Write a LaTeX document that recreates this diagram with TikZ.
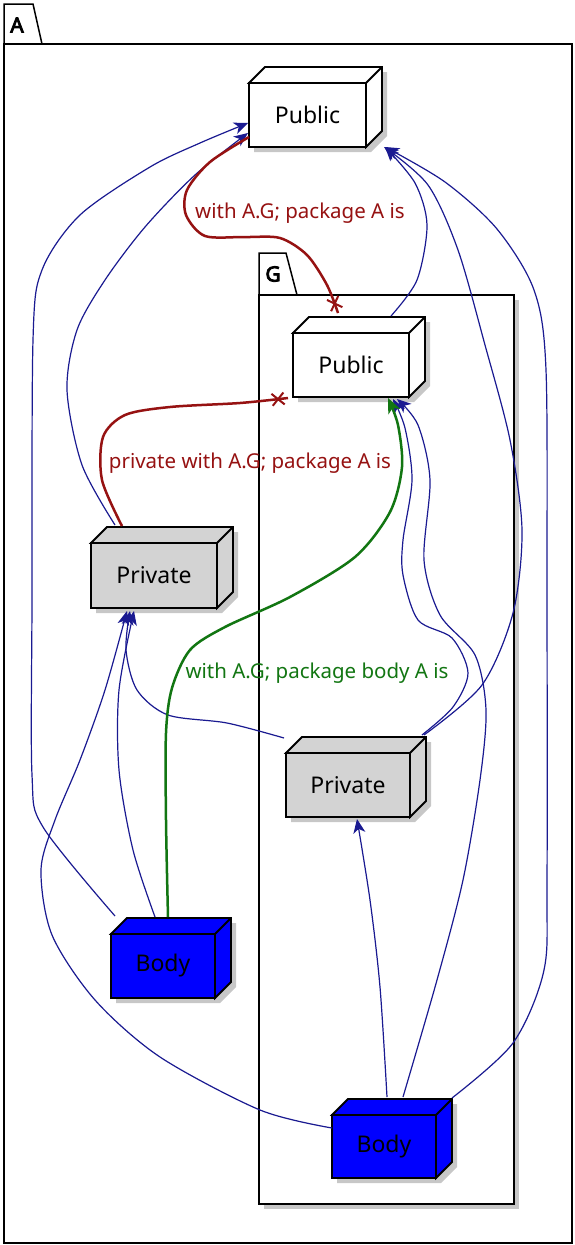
\documentclass[tikz,border=0pt]{standalone}
\usepackage{fontspec}
\setmainfont{Noto Sans}
\newfontfamily\pkgfont{Noto Sans}[FakeBold=4]
\usetikzlibrary{arrows.meta,decorations.markings}
\definecolor{eblue}{RGB}{26,26,145}
\definecolor{ered}{RGB}{150,18,18}
\definecolor{egreen}{RGB}{18,118,18}
\definecolor{boxgray}{RGB}{211,211,211}
\definecolor{pureblue}{RGB}{0,0,255}
\tikzset{
  cubefront/.style={draw, line width=1.8pt, outer sep=0pt, inner sep=0pt, font=\fontsize{23}{27}\selectfont, text=black},
  cubeline/.style={draw, line width=1.8pt, line join=miter},
  shadowc/.style={fill=black, opacity=0.22},
  pkgline/.style={draw, line width=1.5pt, fill=white},
  pkglabel/.style={font=\pkgfont\fontsize{21}{25}\selectfont, inner sep=0pt},
  eline/.style={draw=eblue, line width=1.2pt, -{Stealth[length=14pt,width=12pt,inset=4pt]}, fill=none},
  redline/.style={draw=ered, line width=2.5pt, fill=none,
    postaction={decorate, decoration={markings, mark=at position -10pt with {\draw[ered, line width=2pt] (-6,-6) -- (6,6) (-6,6) -- (6,-6);}}}},
  greenline/.style={draw=egreen, line width=2.5pt, fill=none, -{Stealth[length=15pt,width=13pt,inset=4pt]}},
  elabel/.style={font=\fontsize{20.5}{24}\selectfont, inner sep=0pt},
}
\newcommand\cubebox[7]{%
  \fill[shadowc] ({#2+5},{#5+5}) -- ({#2+5},{#3+5}) -- ({#2+21},{#3-11}) -- ({#4+21},{#3-11}) -- ({#4+21},{#5-11}) -- ({#4+5},{#5+5}) -- cycle;
  \node[cubefront, fill=#6, minimum width={(#4-#2)*1pt}, minimum height={(#5-#3)*1pt}] (#1) at ({(#2+#4)/2},{(#3+#5)/2}) {#7};
  \draw[cubeline, fill=#6] (#1.north west) -- ++(16,-16) -- ++({#4-#2},0) -- ++(0,{#5-#3}) -- (#1.south east) -- (#1.north east) -- cycle;
  \draw[cubeline] (#1.north east) -- ++(16,-16);
}
\begin{document}
\begin{tikzpicture}[x=1pt,y=-1pt]
\useasboundingbox (0,0) rectangle (575,1245);
\fill[white] (0,0) rectangle (575,1245);
% package A
\draw[pkgline] (4,44) -- (4,4) -- (33,4) -- (42,44) -- cycle;
\draw[pkgline] (4,44) rectangle (572,1243);
\node[pkglabel] (pA) at (17,25) {A};
% package G
\fill[shadowc] (264,300) rectangle (519,1209);
\draw[pkgline] (259,295) -- (259,253) -- (286,253) -- (297,295) -- cycle;
\draw[pkgline] (259,295) rectangle (514,1204);
\node[pkglabel] (pG) at (273,274) {G};
% boxes
\cubebox{apub}{249}{83}{366}{147}{white}{Public}
\cubebox{gpub}{293}{333}{409}{397}{white}{Public}
\cubebox{apriv}{91}{543}{217}{608}{boxgray}{Private}
\cubebox{gpriv}{286}{753}{410}{817}{boxgray}{Private}
\cubebox{abody}{111}{934}{215}{998}{pureblue}{Body}
\cubebox{gbody}{332}{1115}{436}{1178}{pureblue}{Body}
% blue edges
\draw[eline] plot[smooth] coordinates {([shift={(4,-18)}]abody.north west) (43,827) (32,775) (32,600) (33,340) (42,270) (80,215) (150,167) (200,143) ([shift={(-1,8)}]apub.west)};
\draw[eline] plot[smooth] coordinates {([shift={(24,-18)}]apriv.north west) (82,465) (67,390) (77,330) (105,280) (145,227) (195,175) ([shift={(-1,-14)}]apub.south west)};
\draw[eline] plot[smooth] coordinates {([shift={(-18,-17)}]gpub.north east) (417,280) (427,225) (415,183) ([shift={(19,0)}]apub.south east)};
\draw[eline] plot[smooth] coordinates {([shift={(14,-18)}]gpriv.north east) (482,685) (513,613) (522,530) (510,440) (485,345) (458,250) (428,185) ([shift={(18,0)}]apub.south east)};
\draw[eline] plot[smooth] coordinates {([shift={(16,-17)}]gbody.north east) (513,1043) (544,970) (547,880) (547,600) (546,370) (534,290) (497,229) (445,182) ([shift={(19,0)}]apub.south east)};
\draw[eline] plot[smooth] coordinates {([shift={(-2,-15)}]gpriv.north west) (227,723) (168,715) (137,690) (126,650) ([shift={(39,3)}]apriv.south west)};
\draw[eline] plot[smooth] coordinates {([shift={(44,-17)}]abody.north west) (133,850) (119,770) (119,690) ([shift={(43,3)}]apriv.south west)};
\draw[eline] plot[smooth] coordinates {([shift={(0,13)}]gbody.north west) (260,1110) (160,1057) (95,1000) (52,935) (41,870) (55,820) (80,760) (105,690) ([shift={(36,3)}]apriv.south west)};
\draw[eline] plot[smooth] coordinates {([shift={(55,-18)}]gbody.north west) (380,987) (370,900) ([shift={(71,2)}]gpriv.south west)};
\draw[eline] plot[smooth] coordinates {([shift={(71,-18)}]gbody.north west) (437,980) (463,880) (480,780) (486,710) (475,655) (440,615) (424,560) (430,480) (418,425) ([shift={(-12,2)}]gpub.south east)};
\draw[eline] plot[smooth] coordinates {([shift={(12,-18)}]gpriv.north east) (453,707) (468,673) (452,638) (418,620) (403,575) (403,540) (412,480) (405,428) ([shift={(-16,2)}]gpub.south east)};
% red edges
\draw[redline] plot[smooth] coordinates {([shift={(0,-10)}]apub.south west) (210,162) (187,190) (186,215) (205,236) (245,237) (280,238) (307,255) (327,285) ([shift={(45,-20)}]gpub.north west)};
\draw[redline] plot[smooth] coordinates {([shift={(31,-17)}]apriv.north west) (102,480) (103,437) (125,415) (170,407) (240,403) ([shift={(-5,1)}]gpub.south west)};
% green edge
\draw[greenline] plot[smooth] coordinates {([shift={(57,-17)}]abody.north west) (166,820) (166,733) (172,688) (190,650) (225,627) (290,597) (355,557) (390,512) (402,467) (398,425) ([shift={(-21,1)}]gpub.south east)};
% labels
\node[elabel, text=ered] (l1) at (300,213) {with A.G; package A is};
\node[elabel, text=ered] (l2) at (250,463) {private with A.G; package A is};
\node[elabel, text=egreen] (l3) at (317,673) {with A.G; package body A is};
\end{tikzpicture}
\end{document}
